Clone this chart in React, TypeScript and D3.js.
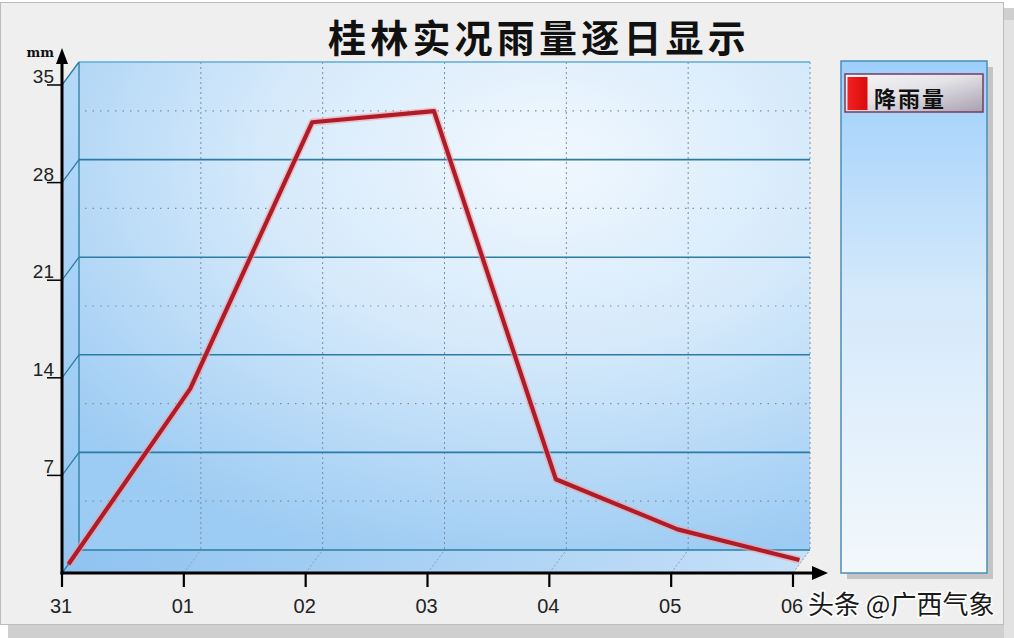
import React from 'react';
import * as d3 from 'd3';

const days = ['31', '01', '02', '03', '04', '05', '06'];
const rainfall = [0, 12.6, 31.7, 32.5, 6.1, 2.5, 0.3];
const yTicks = [7, 14, 21, 28, 35];
const yMinorTicks = [3.5, 10.5, 17.5, 24.5, 31.5];
const title = '桂林实况雨量逐日显示';
const legendLabel = '降雨量';
const unitLabel = 'mm';
const watermark = '头条 @广西气象';

const CJK = '"Noto Sans CJK SC", "Noto Sans", sans-serif';
const NUM = '"Liberation Sans", Arial, sans-serif';

export default function App() {
  const W = 1014;
  const H = 638;
  const x = d3.scalePoint<string>().domain(days).range([62, 793]);
  const y = d3.scaleLinear().domain([0, 35]).range([573, 85]);
  const DX = 17;
  const DY = -23;
  const LF = 0.38;
  const bx = (d: string) => (x(d) as number) + DX;
  const by = (v: number) => y(v) + DY;
  const x0 = x(days[0]) as number;
  const x1 = x(days[days.length - 1]) as number;

  const linePath = d3
    .line<number>()
    .x((_, i) => (x(days[i]) as number) + DX * LF)
    .y((d) => y(d) + DY * LF)(rainfall) as string;

  const grid = '#2b7ca4';

  return (
    <div style={{ position: 'fixed', left: 0, top: 0 }}>
      <svg width={W} height={H} viewBox={`0 0 ${W} ${H}`} style={{ display: 'block' }}>
        <defs>
          <radialGradient id="wallGrad" cx="0.64" cy="0.2" r="0.85">
            <stop offset="0%" stopColor="#f1f8fe" />
            <stop offset="45%" stopColor="#d6eafb" />
            <stop offset="100%" stopColor="#9ccbf3" />
          </radialGradient>
          <linearGradient id="floorGrad" x1="0" y1="0" x2="1" y2="0">
            <stop offset="0%" stopColor="#8fc3f0" />
            <stop offset="100%" stopColor="#c6e0f8" />
          </linearGradient>
          <linearGradient id="sideGrad" x1="0" y1="0" x2="0" y2="1">
            <stop offset="0%" stopColor="#b6d9f8" />
            <stop offset="100%" stopColor="#94c7f2" />
          </linearGradient>
          <linearGradient id="legendGrad" x1="0" y1="0" x2="0" y2="1">
            <stop offset="0%" stopColor="#9dcffb" />
            <stop offset="45%" stopColor="#d4e9fb" />
            <stop offset="100%" stopColor="#f3f8fc" />
          </linearGradient>
          <linearGradient id="itemGrad" x1="0" y1="0" x2="1" y2="1">
            <stop offset="0%" stopColor="#f6f6f8" />
            <stop offset="45%" stopColor="#e4e4e8" />
            <stop offset="100%" stopColor="#a89fb0" />
          </linearGradient>
          <linearGradient id="swatchGrad" x1="0" y1="0" x2="1" y2="0">
            <stop offset="0%" stopColor="#f52020" />
            <stop offset="100%" stopColor="#d80c0c" />
          </linearGradient>
        </defs>

        {/* window frame */}
        <rect x={0} y={0} width={W} height={H} fill="#ffffff" />
        <rect x={8} y={8} width={W - 8} height={H - 8} fill="#cfcfcf" />
        <rect x={1004} y={20} width={10} height={H - 20} fill="#e2e2e2" />
        <rect x={0.5} y={2.5} width={1003} height={622} fill="#efefef" stroke="#bcbcbc" />

        {/* title */}
        <text x={328} y={52} fontFamily={CJK} fontSize={38} fontWeight={700} letterSpacing={4.2} fill="#111">
          {title}
        </text>

        {/* back wall */}
        <rect x={x0 + DX} y={by(35)} width={x1 - x0} height={y(0) - y(35)} fill="url(#wallGrad)" />
        {/* left wall */}
        <polygon
          points={`${x0},${y(35)} ${x0 + DX},${by(35)} ${x0 + DX},${by(0)} ${x0},${y(0)}`}
          fill="url(#sideGrad)"
        />
        {/* floor */}
        <polygon
          points={`${x0},${y(0)} ${x0 + DX},${by(0)} ${x1 + DX},${by(0)} ${x1},${y(0)}`}
          fill="url(#floorGrad)"
        />

        {/* minor dotted grid */}
        {yMinorTicks.map((v) => (
          <line
            key={'m' + v}
            x1={x0 + DX + 6}
            x2={x1 + DX}
            y1={by(v)}
            y2={by(v)}
            stroke="#7d8e9e"
            strokeWidth={1.2}
            strokeDasharray="1.5 6"
          />
        ))}
        {/* vertical dotted grid */}
        {days.slice(1).map((d) => (
          <g key={'v' + d}>
            <line x1={bx(d)} x2={bx(d)} y1={by(35)} y2={by(0)} stroke="#7d8e9e" strokeWidth={1} strokeDasharray="2 3" />
            <line x1={x(d) as number} x2={bx(d)} y1={y(0)} y2={by(0)} stroke="#8aa0b4" strokeWidth={1} strokeDasharray="2 2" />
          </g>
        ))}
        {/* major solid grid */}
        {yTicks.map((v) => (
          <g key={'g' + v}>
            <line x1={x0 + DX} x2={x1 + DX} y1={by(v)} y2={by(v)} stroke={v === 35 ? '#5aaede' : grid} strokeWidth={1.6} />
            <line x1={x0} x2={x0 + DX} y1={y(v)} y2={by(v)} stroke={grid} strokeWidth={1.3} />
          </g>
        ))}
        <line x1={x0 + DX} x2={x1 + DX} y1={by(0)} y2={by(0)} stroke={grid} strokeWidth={1.6} />
        <line x1={x0} x2={x0 + DX} y1={y(0)} y2={by(0)} stroke={grid} strokeWidth={1.3} />
        <line x1={x0 + DX} x2={x0 + DX} y1={by(35)} y2={by(0)} stroke={grid} strokeWidth={1.3} />

        {/* data line */}
        <path d={linePath} fill="none" stroke="#f4a0a0" strokeOpacity={0.6} strokeWidth={7.5} strokeLinejoin="round" />
        <path d={linePath} fill="none" stroke="#ad1c28" strokeWidth={4.2} strokeLinejoin="round" />

        {/* y axis */}
        <line x1={x0} x2={x0} y1={y(0) + 1.5} y2={58} stroke="#000" strokeWidth={3} />
        <polygon points={`${x0},${48} ${x0 - 6},${64} ${x0 + 6},${64}`} fill="#000" />
        <text x={54} y={57} textAnchor="end" fontFamily='"DejaVu Serif", serif' fontSize={13} fontWeight={700} fill="#111">
          {unitLabel}
        </text>
        {yTicks.map((v) => (
          <g key={'yt' + v}>
            <line x1={47} x2={x0} y1={y(v)} y2={y(v)} stroke="#000" strokeWidth={1.5} />
            <text x={54} y={y(v) - 2} textAnchor="end" fontFamily={NUM} fontSize={19} fill="#222">
              {v}
            </text>
          </g>
        ))}

        {/* x axis */}
        <line x1={x0 - 1.5} x2={818} y1={y(0)} y2={y(0)} stroke="#000" strokeWidth={3} />
        <polygon points={`${828},${y(0)} ${812},${y(0) - 7} ${812},${y(0) + 7}`} fill="#000" />
        {days.map((d) => (
          <g key={'xt' + d}>
            <line x1={x(d) as number} x2={x(d) as number} y1={y(0)} y2={y(0) + 14} stroke="#000" strokeWidth={2.2} />
            <text x={(x(d) as number) - 1} y={613} textAnchor="middle" fontFamily={NUM} fontSize={20} fill="#222">
              {d}
            </text>
          </g>
        ))}

        {/* legend */}
        <rect x={847} y={67} width={146} height={512} fill="#c4c4c4" />
        <rect x={841} y={61} width={146} height={512} fill="url(#legendGrad)" stroke="#4a8fb9" strokeWidth={1.5} />
        <rect x={845} y={74} width={138} height={38} fill="url(#itemGrad)" stroke="#7a3a5c" strokeWidth={1.5} />
        <rect x={847.5} y={77} width={20} height={33} fill="url(#swatchGrad)" />
        <text x={874} y={107} fontFamily={CJK} fontSize={22} fontWeight={700} letterSpacing={2} fill="#111">
          {legendLabel}
        </text>

        {/* watermark */}
        <text
          x={808}
          y={614}
          fontFamily={CJK}
          fontSize={26}
          fill="#1a1a1a"
          stroke="#ffffff"
          strokeWidth={3}
          paintOrder="stroke"
        >
          {watermark}
        </text>
      </svg>
    </div>
  );
}
